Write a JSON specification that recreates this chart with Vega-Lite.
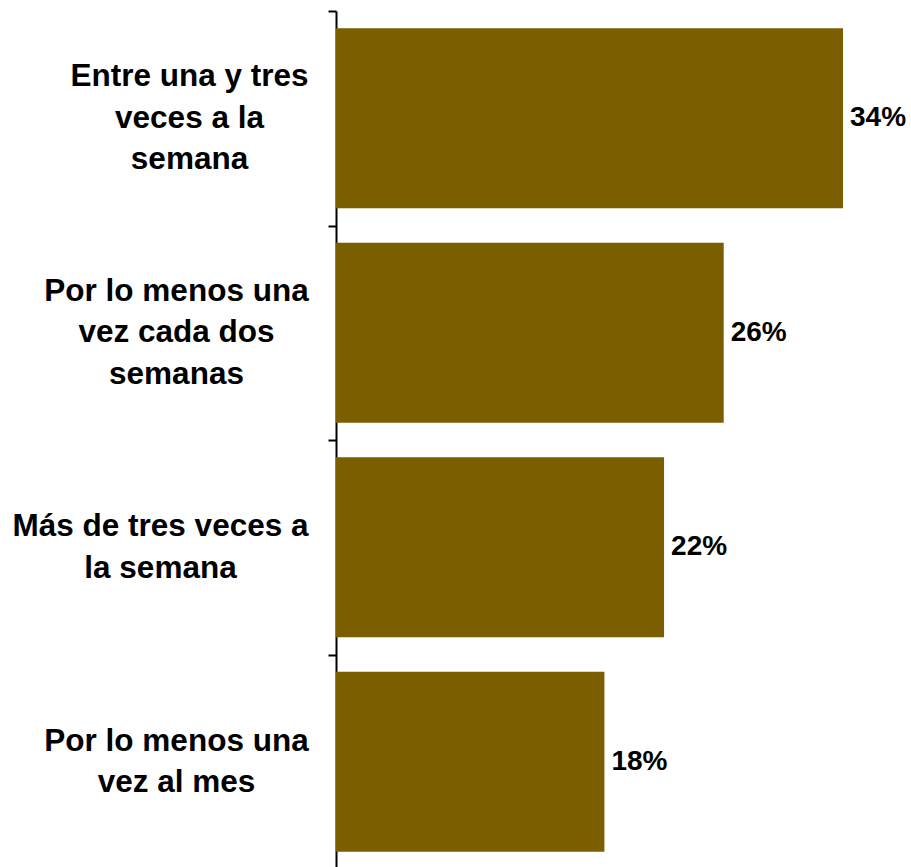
{
  "$schema": "https://vega.github.io/schema/vega-lite/v6.json",
  "width": 575,
  "height": 858,
  "autosize": {"type": "none"},
  "padding": {"left": 336, "top": 11, "right": 0, "bottom": 0},
  "background": "white",
  "config": {"view": {"stroke": null}, "font": "Liberation Sans"},
  "data": {"values": [
    {"cat": "Entre una y tres veces a la semana", "pct": 0.34},
    {"cat": "Por lo menos una vez cada dos semanas", "pct": 0.26},
    {"cat": "Más de tres veces a la semana", "pct": 0.22},
    {"cat": "Por lo menos una vez al mes", "pct": 0.18}
  ]},
  "encoding": {
    "y": {"field": "cat", "type": "nominal", "sort": null,
      "scale": {"paddingInner": 0, "paddingOuter": 0},
      "axis": {"title": null, "tickBand": "extent", "domainColor": "black", "domainWidth": 2,
        "tickColor": "black", "tickWidth": 2, "tickSize": 8,
        "labelAlign": "center",
        "labelPadding": {"condition": [
          {"test": "datum.value == 'Entre una y tres veces a la semana'", "value": 139},
          {"test": "datum.value == 'Más de tres veces a la semana'", "value": 168}
        ], "value": 152},
        "labelOffset": {"condition": [
          {"test": "datum.value == 'Entre una y tres veces a la semana' || datum.value == 'Por lo menos una vez cada dos semanas'", "value": -41.5}
        ], "value": -20.75},
        "labelFont": "Liberation Sans", "labelFontWeight": "bold", "labelFontSize": 31.5,
        "labelColor": "black", "labelLineHeight": 41.5, "labelLimit": 0,
        "labelExpr": "!datum.value ? '' : datum.value == 'Entre una y tres veces a la semana' ? ['Entre una y tres','veces a la','semana'] : datum.value == 'Por lo menos una vez cada dos semanas' ? ['Por lo menos una','vez cada dos','semanas'] : datum.value == 'Más de tres veces a la semana' ? ['Más de tres veces a','la semana'] : ['Por lo menos una','vez al mes']"}},
    "x": {"field": "pct", "type": "quantitative", "scale": {"domain": [0, 0.3856], "nice": false}, "axis": null}
  },
  "layer": [
    {"mark": {"type": "bar", "color": "#7a5e00", "height": {"band": 0.84}}},
    {"mark": {"type": "text", "align": "left", "dx": 7, "font": "Liberation Sans", "fontWeight": "bold", "fontSize": 28, "color": "black"},
     "encoding": {"text": {"field": "pct", "type": "quantitative", "format": ".0%"}}}
  ]
}
